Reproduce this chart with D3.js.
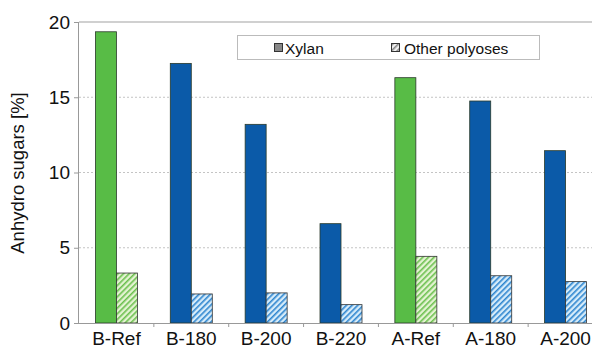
<!DOCTYPE html>
<html><head><meta charset="utf-8">
<script src="https://cdn.jsdelivr.net/npm/d3@7"></script>
<style>body{margin:0;background:#fff;}svg{display:block;font-family:"Liberation Sans",Arial,sans-serif;}</style>
</head><body>
<svg id="c" width="592" height="349"></svg>
<script>
const categories = ["B-Ref","B-180","B-200","B-220","A-Ref","A-180","A-200"];
const xylan = [19.35, 17.25, 13.2, 6.6, 16.3, 14.75, 11.45];
const otherPolyoses = [3.32, 1.93, 2.0, 1.22, 4.43, 3.14, 2.75];
const isRef = [true,false,false,false,true,false,false];
const yTicks = [0,5,10,15,20];
const seriesNames = ["Xylan","Other polyoses"];

const FF = "'Liberation Sans', Arial, sans-serif";
const svg = d3.select("#c");
const m = {l:79, t:22, b:323, r:603};
const x = d3.scaleBand().domain(categories).range([m.l, m.r]);
const y = d3.scaleLinear().domain([0,20]).range([m.b, m.t]);

const defs = svg.append("defs");
function hatch(id, bg, fg){
  const p = defs.append("pattern").attr("id",id).attr("patternUnits","userSpaceOnUse")
    .attr("width",4).attr("height",4).attr("patternTransform","rotate(45)");
  p.append("rect").attr("width",4).attr("height",4).attr("fill",bg);
  p.append("rect").attr("width",1.6).attr("height",4).attr("fill",fg);
}
hatch("hg","#e4f3d2","#6cc04f");
hatch("hb","#d6ecfa","#2f86cf");
hatch("hgray","#f0f0f0","#888");

// gridlines
svg.append("g").selectAll("line").data(yTicks.filter(d=>d>0 && d<20)).join("line")
  .attr("x1",m.l).attr("x2",592).attr("y1",d=>y(d)).attr("y2",d=>y(d))
  .attr("stroke","#c4c4c4").attr("stroke-dasharray","2,2").attr("stroke-width",1);
// top frame
svg.append("line").attr("x1",m.l).attr("x2",592).attr("y1",y(20)).attr("y2",y(20)).attr("stroke","#c0c0c0").attr("stroke-width",1.5);

const bw = 21;
const g = svg.append("g");
categories.forEach((c,i)=>{
  const cx = x(c) + x.bandwidth()/2;
  g.append("rect").attr("x",cx-bw).attr("width",bw).attr("y",y(xylan[i])).attr("height",y(0)-y(xylan[i]))
    .attr("fill", isRef[i] ? "#58bc46" : "#0b5aa8").attr("stroke","#2a3a2a").attr("stroke-width",0.8);
  g.append("rect").attr("x",cx).attr("width",bw).attr("y",y(otherPolyoses[i])).attr("height",y(0)-y(otherPolyoses[i]))
    .attr("fill", isRef[i] ? "url(#hg)" : "url(#hb)").attr("stroke","#333").attr("stroke-width",0.8);
});

// y axis
const ya = svg.append("g").attr("transform",`translate(${m.l},0)`)
  .call(d3.axisLeft(y).tickValues(yTicks).tickSize(5).tickPadding(4));
ya.select(".domain").attr("stroke","#999").attr("d",`M-0.5,${m.b}V${m.t}`);
ya.selectAll(".tick line").attr("stroke","#999");
ya.selectAll("text").attr("font-size",19).attr("fill","#111").attr("font-family",FF);

// x axis
const xa = svg.append("g").attr("transform",`translate(0,${m.b})`)
  .call(d3.axisBottom(x).tickSize(0).tickPadding(9));
xa.select(".domain").attr("stroke","#999").attr("d",`M${m.l},0.5H${m.r}`);
xa.selectAll("text").attr("font-size",19).attr("fill","#111").attr("font-family",FF);
// boundary ticks
svg.append("g").selectAll("line").data(categories.slice(1)).join("line")
  .attr("x1",d=>x(d)).attr("x2",d=>x(d)).attr("y1",m.b).attr("y2",m.b+4).attr("stroke","#999");

// y label
svg.append("text").attr("transform",`translate(24,173) rotate(-90)`)
  .attr("text-anchor","middle").attr("font-size",18.5).attr("fill","#111").attr("font-family",FF).text("Anhydro sugars [%]");

// legend
const lg = svg.append("g");
lg.append("rect").attr("x",237.5).attr("y",35.5).attr("width",302).attr("height",24)
  .attr("fill","#fff").attr("stroke","#bbb");
lg.append("rect").attr("x",274.5).attr("y",43.5).attr("width",8).attr("height",8).attr("fill","#888").attr("stroke","#333");
lg.append("text").attr("x",285).attr("y",53.5).attr("font-size",15.5).attr("fill","#111").attr("font-family",FF).text(seriesNames[0]);
lg.append("rect").attr("x",391.5).attr("y",43.5).attr("width",8).attr("height",8).attr("fill","url(#hgray)").attr("stroke","#333");
lg.append("text").attr("x",404).attr("y",53.5).attr("font-size",15.5).attr("fill","#111").attr("font-family",FF).text(seriesNames[1]);
</script>
</body></html>
